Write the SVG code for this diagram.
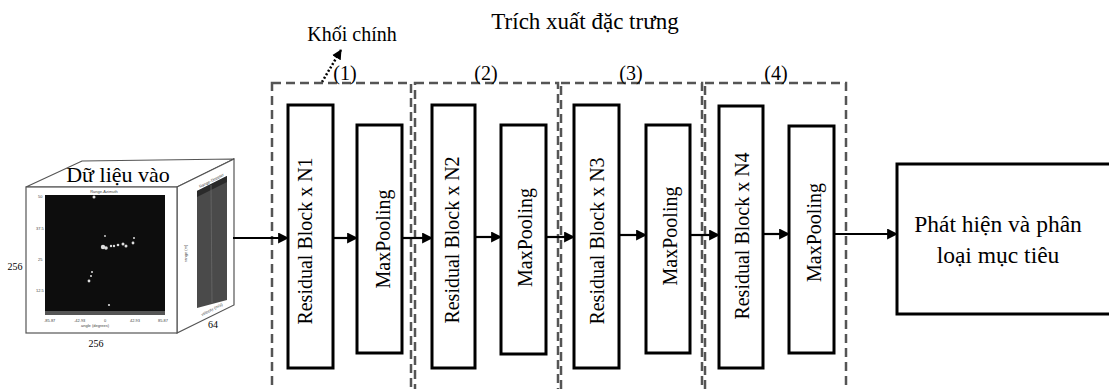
<svg xmlns="http://www.w3.org/2000/svg" width="1109" height="389" viewBox="0 0 1109 389">
<defs>
<marker id="ah" viewBox="0 0 10 10" refX="9" refY="5" markerWidth="5" markerHeight="5" orient="auto" markerUnits="strokeWidth"><path d="M0,0 L10,5 L0,10 z" fill="#000"/></marker>
<marker id="ahd" viewBox="0 0 10 10" refX="9" refY="5" markerWidth="4" markerHeight="4" orient="auto" markerUnits="strokeWidth"><path d="M0,0 L10,5 L0,10 z" fill="#000"/></marker>
</defs>
<style>
text{font-family:"Liberation Serif","DejaVu Serif","Times New Roman",serif;fill:#000}
.blk{fill:#fff;stroke:#000;stroke-width:3}
.grp{fill:none;stroke:#555;stroke-width:2.5;stroke-dasharray:9 5}
.vt{font-size:20px;text-anchor:middle}
.lbl{font-size:20px;text-anchor:middle}
.conn{stroke:#000;stroke-width:2.2;fill:none;marker-end:url(#ah)}
.tiny{font-size:4px;fill:#444;font-family:"Liberation Sans",sans-serif}
</style>
<rect width="1109" height="389" fill="#fff"/>

<g id="title"><text x="585" y="29" font-size="23" text-anchor="middle">Trích xuất đặc trưng</text></g>

<g id="khoi-chinh">
<text x="352" y="41" font-size="20" text-anchor="middle">Khối chính</text>
<line x1="322" y1="82" x2="341" y2="50" stroke="#000" stroke-width="2.5" stroke-dasharray="2 2" marker-end="url(#ahd)"/>
</g>

<g id="input">
<polygon points="26,187 82,161 234,159 177,187" fill="#fff" stroke="#555" stroke-width="1.2"/>
<polygon points="177,187 234,159 234,305 177,333" fill="#fff" stroke="#555" stroke-width="1.2"/>
<rect x="26" y="187" width="151" height="146" fill="#fff" stroke="#555" stroke-width="1.2"/>
<rect x="45" y="195" width="120" height="120" fill="#0d0d0d"/>
<rect x="45" y="311" width="120" height="4" fill="#555"/>
<g fill="#ddd">
<circle cx="103" cy="247" r="2.2"/><circle cx="106" cy="248" r="1.8"/><circle cx="111" cy="246" r="1.2"/><circle cx="114" cy="246" r="1.2"/><circle cx="118" cy="245" r="1.3"/><circle cx="123" cy="244" r="1.5"/><circle cx="126" cy="246" r="1.5"/><circle cx="133" cy="243" r="1.4"/><circle cx="134" cy="238" r="1"/><circle cx="105" cy="236" r="0.9"/><circle cx="89" cy="281" r="1.4"/><circle cx="91" cy="276" r="1"/><circle cx="92" cy="272" r="1"/><circle cx="109" cy="305" r="1.1"/><circle cx="94" cy="197" r="1.5"/>
</g>
<text x="104" y="193" class="tiny" text-anchor="middle">Range-Azimuth</text>
<text x="95" y="327" class="tiny" text-anchor="middle">angle (degrees)</text>
<text x="38" y="198" class="tiny">50</text>
<text x="36" y="230" class="tiny">37.5</text>
<text x="38" y="261" class="tiny">25</text>
<text x="36" y="292" class="tiny">12.5</text>
<text x="44" y="322" class="tiny">-85.87</text>
<text x="74" y="322" class="tiny">-42.93</text>
<text x="104" y="322" class="tiny">0</text>
<text x="130" y="322" class="tiny">42.93</text>
<text x="158" y="322" class="tiny">85.87</text>
<polygon points="197,191 227,176 227,300 197,308" fill="#4a4a4a"/>
<polygon points="197,191 227,176 227,182 197,197" fill="#2a2a2a"/>
<line x1="211" y1="185" x2="212" y2="303" stroke="#6a6a6a" stroke-width="0.8"/>
<text class="tiny" transform="translate(200,188) rotate(-27)">Range-Doppler</text>
<text class="tiny" transform="translate(187,262) rotate(-90)">range (m)</text>
<text class="tiny" transform="translate(202,316) rotate(-27)">velocity (m/s)</text>
<text x="118" y="182" font-size="22" text-anchor="middle">Dữ liệu vào</text>
<text x="15" y="270" font-size="10" text-anchor="middle">256</text>
<text x="96" y="347" font-size="10" text-anchor="middle">256</text>
<text x="213" y="328" font-size="10" text-anchor="middle">64</text>
</g>

<g id="stage1">
<rect class="grp" x="272" y="83" width="139" height="320"/>
<text class="lbl" x="345" y="80">(1)</text>
<g id="res1"><rect class="blk" x="288" y="105" width="45" height="263"/><text class="vt" transform="translate(312,241) rotate(-90)">Residual Block x N1</text></g>
<g id="mp1"><rect class="blk" x="357" y="125" width="45" height="228"/><text class="vt" transform="translate(390,239) rotate(-90)">MaxPooling</text></g>
</g>
<g id="stage2">
<rect class="grp" x="415" y="83" width="143" height="320"/>
<text class="lbl" x="486" y="80">(2)</text>
<g id="res2"><rect class="blk" x="432" y="105" width="43" height="263"/><text class="vt" transform="translate(459,240) rotate(-90)">Residual Block x N2</text></g>
<g id="mp2"><rect class="blk" x="501" y="125" width="45" height="229"/><text class="vt" transform="translate(532,237.5) rotate(-90)">MaxPooling</text></g>
</g>
<g id="stage3">
<rect class="grp" x="561" y="83" width="141" height="320"/>
<text class="lbl" x="631" y="80">(3)</text>
<g id="res3"><rect class="blk" x="574" y="105" width="45" height="263"/><text class="vt" transform="translate(604,241) rotate(-90)">Residual Block x N3</text></g>
<g id="mp3"><rect class="blk" x="646" y="125" width="44" height="228"/><text class="vt" transform="translate(677,236) rotate(-90)">MaxPooling</text></g>
</g>
<g id="stage4">
<rect class="grp" x="705" y="83" width="141" height="320"/>
<text class="lbl" x="776" y="80">(4)</text>
<g id="res4"><rect class="blk" x="719" y="106" width="44" height="262"/><text class="vt" transform="translate(749,236) rotate(-90)">Residual Block x N4</text></g>
<g id="mp4"><rect class="blk" x="789" y="126" width="45" height="227"/><text class="vt" transform="translate(821,232.5) rotate(-90)">MaxPooling</text></g>
</g>

<g id="output">
<rect class="blk" x="897" y="164" width="220" height="150"/>
<text x="998" y="232" font-size="23.5" text-anchor="middle">Phát hiện và phân</text>
<text x="998" y="263" font-size="23.5" text-anchor="middle">loại mục tiêu</text>
</g>

<g id="connectors">
<line class="conn" x1="233" y1="238" x2="288" y2="238"/>
<line class="conn" x1="333" y1="238" x2="357" y2="238"/>
<line class="conn" x1="402" y1="238" x2="432" y2="238"/>
<line class="conn" x1="475" y1="237" x2="501" y2="237"/>
<line class="conn" x1="546" y1="237" x2="574" y2="237"/>
<line class="conn" x1="619" y1="235" x2="646" y2="235"/>
<line class="conn" x1="690" y1="235" x2="719" y2="235"/>
<line class="conn" x1="763" y1="234" x2="789" y2="234"/>
<line class="conn" x1="834" y1="234" x2="897" y2="234"/>
</g>
</svg>
